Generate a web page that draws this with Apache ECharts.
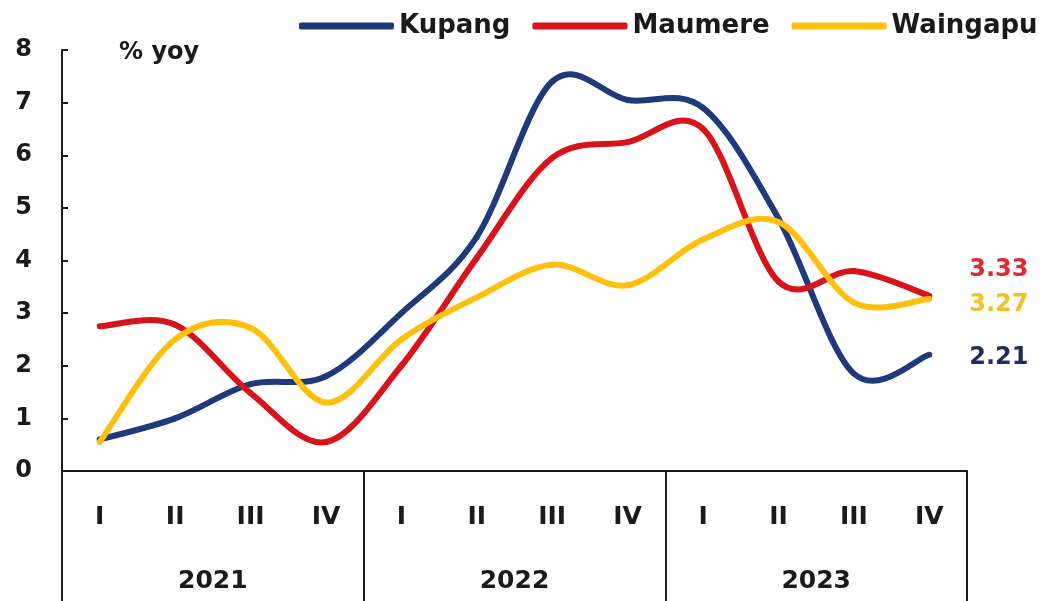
<!DOCTYPE html>
<html>
<head>
<meta charset="utf-8">
<script src="https://cdn.jsdelivr.net/npm/echarts@6/dist/echarts.min.js"></script>
<style>
  html, body { margin: 0; padding: 0; background: #ffffff; }
  #chart { width: 1064px; height: 601px; }
</style>
</head>
<body>
<div id="chart"></div>
<script>
// Quarterly inflation (% yoy) for three cities, 2021–2023
const quarters = ['I', 'II', 'III', 'IV', 'I', 'II', 'III', 'IV', 'I', 'II', 'III', 'IV'];
const years = ['2021', '2022', '2023'];
const yTicks = { min: 0, max: 8, interval: 1 };

const kupang   = [0.6, 1.0, 1.65, 1.8, 3.0, 4.45, 7.4, 7.05, 6.9, 4.8, 1.85, 2.21];
const maumere  = [2.75, 2.78, 1.48, 0.55, 2.0, 4.05, 5.95, 6.25, 6.5, 3.6, 3.8, 3.33];
const waingapu = [0.55, 2.5, 2.72, 1.3, 2.5, 3.3, 3.92, 3.53, 4.4, 4.73, 3.2, 3.27];

const FONT = 'DejaVu Sans';
const INK = '#1a1a1a';

// Smooth curve: each segment is a cubic Bezier whose control points follow
// the neighbouring points (uniform Catmull-Rom, tension 1/6).
function smoothLine(name, values, color, labelColor, labelDy) {
  const n = values.length;
  return {
    name: name,
    type: 'custom',
    xAxisIndex: 0,
    clip: false,
    data: values.map((v, i) => [i, v]),
    encode: { x: 0, y: 1 },
    itemStyle: { color: color },
    silent: true,
    renderItem: function (params, api) {
      const i = params.dataIndex;
      const p = k => {
        const j = Math.max(0, Math.min(n - 1, k));
        return api.coord([j, values[j]]);
      };
      const children = [];
      if (i < n - 1) {
        const p0 = p(i - 1), p1 = p(i), p2 = p(i + 1), p3 = p(i + 2);
        children.push({
          type: 'bezierCurve',
          shape: {
            x1: p1[0], y1: p1[1], x2: p2[0], y2: p2[1],
            cpx1: p1[0] + (p2[0] - p0[0]) / 6, cpy1: p1[1] + (p2[1] - p0[1]) / 6,
            cpx2: p2[0] - (p3[0] - p1[0]) / 6, cpy2: p2[1] - (p3[1] - p1[1]) / 6
          },
          style: { stroke: color, lineWidth: 6, fill: null, lineCap: 'round', lineJoin: 'round' }
        });
      } else {
        // value label beside the last point
        const pe = p(i);
        children.push({
          type: 'text',
          x: pe[0] + 40,
          y: pe[1] + labelDy,
          style: {
            text: values[i].toFixed(2),
            fill: labelColor,
            font: 'bold 24px "' + FONT + '"',
            verticalAlign: 'middle',
            align: 'left'
          }
        });
      }
      return { type: 'group', children: children };
    },
    animation: false
  };
}

const chart = echarts.init(document.getElementById('chart'), null, { renderer: 'canvas' });
chart.setOption({
  backgroundColor: '#ffffff',
  animation: false,
  title: {
    text: '% yoy',
    left: 114,
    top: 36,
    textStyle: { fontFamily: FONT, fontWeight: 'bold', fontSize: 24, color: INK }
  },
  legend: {
    left: 294,
    top: 8,
    itemWidth: 95,
    itemHeight: 7,
    itemGap: 22,
    icon: 'roundRect',
    selectedMode: false,
    textStyle: { fontFamily: FONT, fontWeight: 'bold', fontSize: 26, color: INK }
  },
  grid: { left: 62, right: 97, top: 50, bottom: 130, containLabel: false },
  xAxis: [
    {
      type: 'category',
      data: quarters,
      position: 'bottom',
      boundaryGap: true,
      axisLine: { show: true, lineStyle: { color: INK, width: 2 } },
      axisTick: { show: false },
      axisLabel: {
        interval: 0, margin: 34,
        fontFamily: FONT, fontWeight: 'bold', fontSize: 25, color: INK
      },
      splitLine: { show: false }
    },
    {
      type: 'category',
      data: years,
      position: 'bottom',
      boundaryGap: true,
      axisLine: { show: false },
      axisTick: {
        show: true, alignWithLabel: false, interval: 0,
        length: 132, inside: false,
        lineStyle: { color: INK, width: 2 }
      },
      axisLabel: {
        interval: 0, margin: 98,
        fontFamily: FONT, fontWeight: 'bold', fontSize: 25, color: INK
      },
      splitLine: { show: false }
    }
  ],
  yAxis: {
    type: 'value',
    min: yTicks.min,
    max: yTicks.max,
    interval: yTicks.interval,
    axisLine: { show: true, lineStyle: { color: INK, width: 2 } },
    axisTick: { show: true, inside: true, length: 6, lineStyle: { color: INK, width: 2 } },
    axisLabel: {
      margin: 30,
      fontFamily: FONT, fontWeight: 'bold', fontSize: 24, color: INK
    },
    splitLine: { show: false }
  },
  series: [
    smoothLine('Kupang', kupang, '#1f3a7a', '#1f2d5c', 3),
    smoothLine('Maumere', maumere, '#d7141c', '#e02a30', -26),
    smoothLine('Waingapu', waingapu, '#fdc00f', '#f5c12a', 6)
  ]
});
</script>
</body>
</html>
